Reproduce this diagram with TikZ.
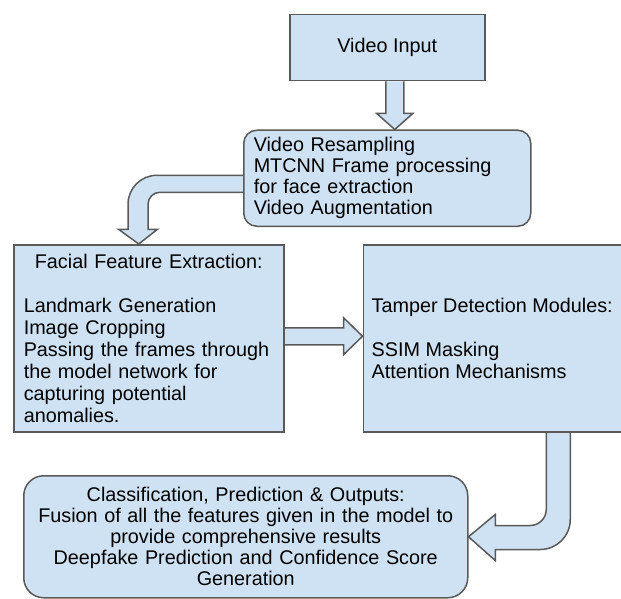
\documentclass[tikz,border=0pt]{standalone}
\usepackage{fontspec}
\setmainfont{Liberation Sans}
\usetikzlibrary{positioning, backgrounds}

\definecolor{boxblue}{HTML}{CFE2F3}
\definecolor{edgegray}{HTML}{595959}

\begin{document}
\begin{tikzpicture}[
        x=0.5pt, y=-0.5pt,
        base/.style={rectangle, draw=edgegray, line width=0.75pt, fill=boxblue, text=black, font=\fontsize{9.9pt}{10.5pt}\selectfont},
        plainbox/.style={base, minimum height=93.5pt, font=\fontsize{9.9pt}{11pt}\selectfont},
        roundbox/.style={base, rounded corners=6.5pt},
        barrow/.style={draw=edgegray, line width=0.75pt, fill=boxblue}
    ]
    \useasboundingbox (0,0) rectangle (621,599);

    \node[base, anchor=north west, minimum width=97.5pt, minimum height=33pt] (vi) at (289,14) {Video Input};

    \node[roundbox, below=24pt of vi, text width=133.5pt, inner xsep=5pt, minimum height=48pt, align=left] (prep) {Video Resampling\\MTCNN Frame processing\\for face extraction\\Video Augmentation};

    \node[plainbox, anchor=north west, text width=125pt, inner xsep=5pt, align=left] (ff) at (13,244) {\makebox[\linewidth]{Facial Feature Extraction:}\\[11pt]Landmark Generation\\Image Cropping\\Passing the frames through\\the model network for\\capturing potential\\anomalies.};
    \node[plainbox, right=39pt of ff, minimum width=129pt, align=left] (td) {Tamper Detection Modules:\\[11pt]SSIM Masking\\Attention Mechanisms};

    \node[roundbox, rounded corners=10pt, anchor=north west, text width=212pt, inner xsep=5pt, minimum height=61pt, align=center] (out) at (23,475) {Classification, Prediction \& Outputs:\\Fusion of all the features given in the model to\\provide comprehensive results\\Deepfake Prediction and Confidence Score\\Generation};

    % block arrows
    \begin{scope}[on background layer]
        \begin{scope}[shift={(vi.south)}]
            \filldraw[barrow] (-1.5,0) -- (-1.5,32) -- (-10.5,32) -- ([xshift=3.75pt]prep.north) -- (25.5,32) -- (16.5,32) -- (16.5,0);
        \end{scope}
        \begin{scope}[shift={(prep.west)}]
            \filldraw[barrow] (0,-3) -- (-86,-3) .. controls (-102,-3) and (-115,10) .. (-115,26) -- (-115,51) -- (-124.5,51) -- ([xshift=-5pt]ff.north) -- (-85.5,51) -- (-95,51) -- (-95,26) .. controls (-95,19.4) and (-89.6,14) .. (-83,14) -- (0,14);
        \end{scope}
        \begin{scope}[shift={(ff.east)}]
            \filldraw[barrow] (0,-10.5) -- (59,-10.5) -- (59,-20.5) -- ([yshift=1pt]td.west) -- (59,16.5) -- (59,6.5) -- (0,6.5);
        \end{scope}
        \begin{scope}[shift={(td.south)}]
            \filldraw[barrow] (54,0) -- (54,77) .. controls (54,85.8) and (46.8,93) .. (38,93) -- (3,93) -- (3,82) -- (out.east) -- (3,128) -- (3,117) -- (48,117) .. controls (64.6,117) and (78,103.6) .. (78,87) -- (78,0);
        \end{scope}
    \end{scope}

\end{tikzpicture}
\end{document}
